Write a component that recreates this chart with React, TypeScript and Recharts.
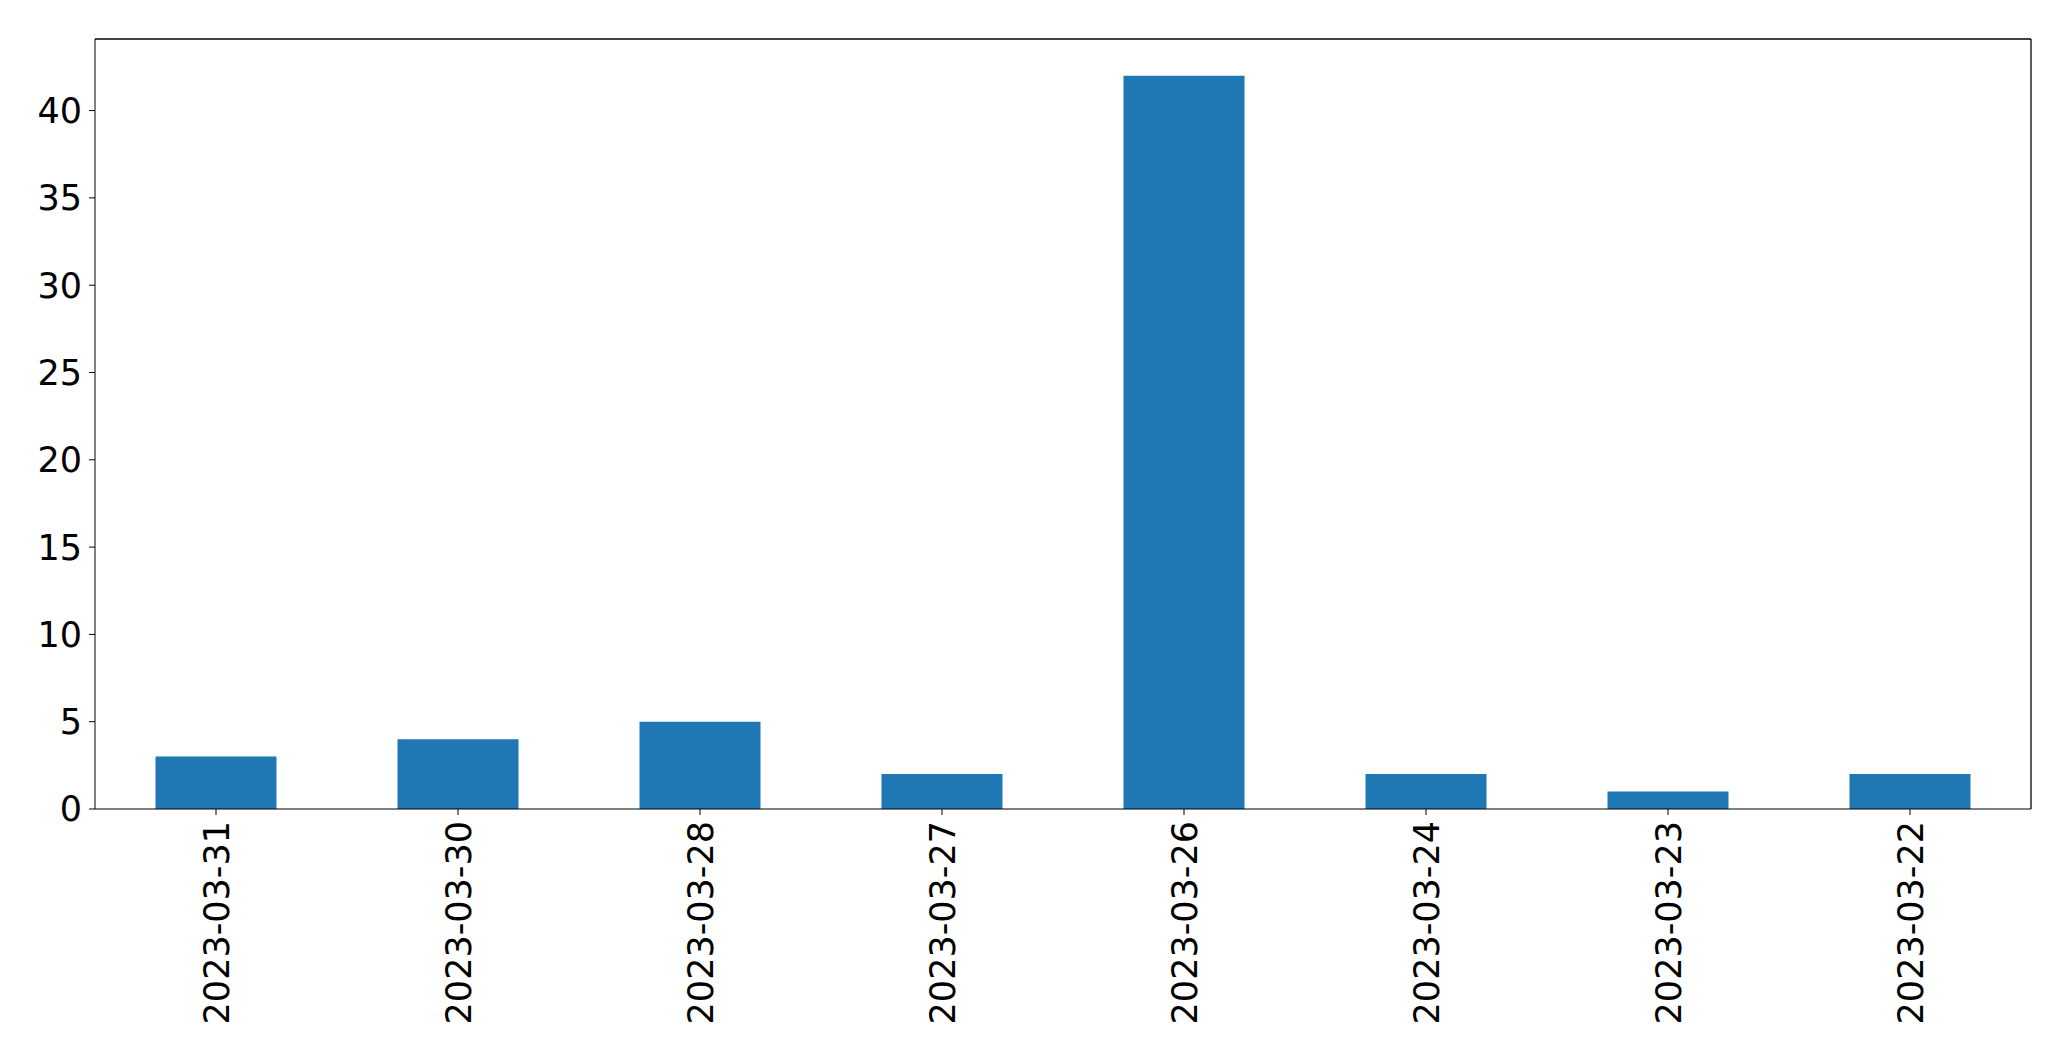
import { BarChart, Bar, XAxis, YAxis, ReferenceLine } from 'recharts';

const dates = ['2023-03-31', '2023-03-30', '2023-03-28', '2023-03-27', '2023-03-26', '2023-03-24', '2023-03-23', '2023-03-22'];
const counts = [3, 4, 5, 2, 42, 2, 1, 2];
const yTicks = [0, 5, 10, 15, 20, 25, 30, 35, 40];
const yMax = 44.1;

const data = dates.map((d, i) => ({ date: d, count: counts[i] }));

const font = 'DejaVu Sans, sans-serif';

function DateTick({ x, y, payload }: any) {
  return (
    <g transform={`translate(${x},${y})`}>
      <text
        transform="rotate(-90)"
        textAnchor="end"
        dy="0.36em"
        fontSize={35}
        fontFamily={font}
        fill="#000"
      >
        {payload.value}
      </text>
    </g>
  );
}

export default function App() {
  return (
    <div style={{ position: 'absolute', left: 0, top: 0, background: '#fff' }}>
      <BarChart
        width={2071}
        height={1061}
        data={data}
        margin={{ top: 39, right: 40, left: 0, bottom: 0 }}
        barCategoryGap="25%"
      >
        <XAxis
          dataKey="date"
          height={252}
          interval={0}
          stroke="#000"
          tickSize={6}
          tickMargin={6}
          tick={<DateTick />}
        />
        <YAxis
          type="number"
          domain={[0, yMax]}
          ticks={yTicks}
          width={95}
          stroke="#000"
          tickSize={6}
          tickMargin={7}
          tick={{ fontSize: 35, fontFamily: font, fill: '#000' }}
        />
        <Bar dataKey="count" fill="#1f77b4" isAnimationActive={false} />
        <ReferenceLine y={yMax} stroke="#000" strokeWidth={1.3} />
        <ReferenceLine x={dates[dates.length - 1]} position="end" stroke="#000" strokeWidth={1.3} />
      </BarChart>
    </div>
  );
}
